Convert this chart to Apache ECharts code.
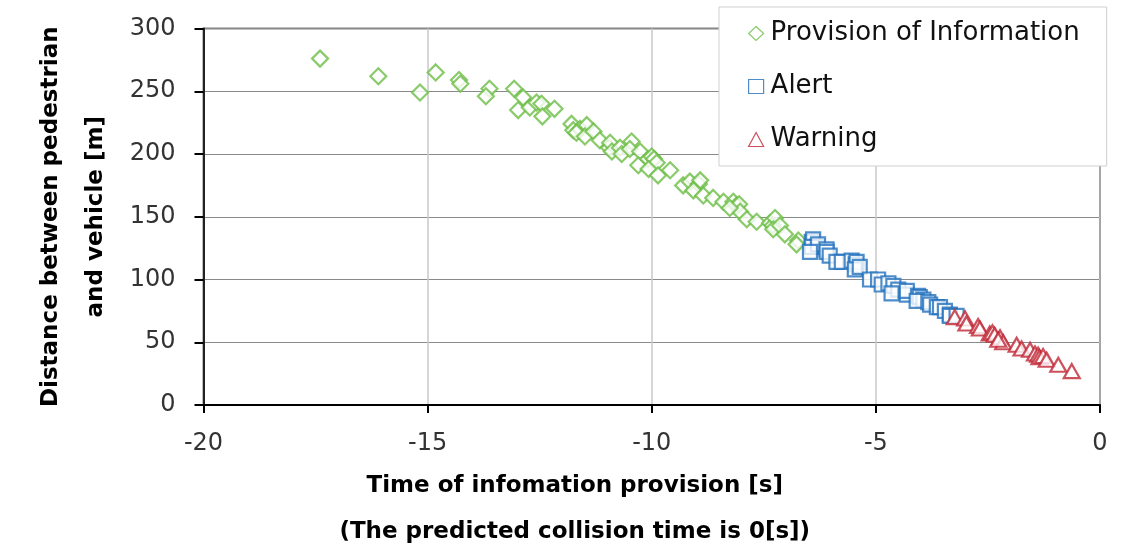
<!DOCTYPE html>
<html>
<head>
<meta charset="utf-8">
<script src="https://cdn.jsdelivr.net/npm/echarts@6/dist/echarts.min.js"></script>
<style>
  html, body { margin: 0; padding: 0; background: #fff; }
  #chart { width: 1137px; height: 560px; }
</style>
</head>
<body>
<div id="chart"></div>
<script>
// 提供情報 (green diamonds)
var infoT = [-17.40, -16.10, -15.17, -14.82, -14.30, -14.27, -13.62, -13.70, -13.07, -12.87, -12.98, -12.72, -12.57, -12.46, -12.44, -12.17,
  -11.79, -11.75, -11.60, -11.45, -11.68, -11.49, -11.30, -11.16, -10.95, -10.93, -10.89, -10.71, -10.67, -10.45, -10.49, -10.26, -10.30,
  -10.08, -10.00, -9.95, -9.89, -10.07, -9.86, -9.59, -9.30, -9.15, -8.95, -8.92, -9.07, -8.85, -8.63, -8.40, -8.18, -8.11, -8.05, -8.03,
  -8.26, -7.88, -7.66, -7.36, -7.30, -7.25, -7.29, -7.14, -7.03, -6.73, -6.77];
var infoD = [276, 262, 249, 265, 259, 256, 252, 246, 252, 245, 235, 237, 241, 240, 230, 236,
  224, 219, 220, 223, 217, 214, 218, 211, 205, 209, 202, 205, 200, 210, 204, 202, 191,
  196, 198, 196, 193, 188, 183, 187, 175, 178, 176, 179, 171, 167, 165, 162, 162, 159, 160, 154,
  157, 148, 146, 145, 143, 149, 140, 143, 136, 131, 128];
// 注意喚起 (blue squares)
var alertT = [-6.43, -6.40, -6.32, -6.43, -6.29, -6.47, -6.10, -6.10, -6.03, -5.88, -5.76, -5.54, -5.45, -5.43, -5.47, -5.36,
  -5.13, -4.95, -4.87, -4.72, -4.61, -4.50, -4.65, -4.31, -4.31, -4.06, -4.02, -3.94, -4.09, -3.83, -3.79, -3.64, -3.57,
  -3.46, -3.35, -3.35, -3.20];
var alertD = [130, 132, 126, 126, 128, 122, 124, 122, 119, 114, 114, 115, 112, 114, 108, 110,
  100, 100, 96, 97, 95, 92, 89, 88, 91, 87, 86, 84, 83, 82, 80, 78, 78,
  75, 72, 71, 71];
// 警報 (red triangles)
var warnT = [-3.24, -3.01, -2.98, -2.72, -2.68, -2.46, -2.40, -2.35, -2.23, -2.16, -2.27, -1.86, -1.75, -1.56, -1.45, -1.38, -1.35,
  -1.27, -1.19, -0.93, -0.63];
var warnD = [70, 69, 65, 63, 61, 57, 58, 56, 54, 50, 52, 48, 45, 44, 41, 40, 38,
  39, 36, 32, 27];

var xTicks = [-20, -15, -10, -5, 0];
var yTicks = [0, 50, 100, 150, 200, 250, 300];

function pairs(xs, ys) {
  var out = [];
  for (var i = 0; i < xs.length; i++) out.push([xs[i], ys[i]]);
  return out;
}

var FONT = 'DejaVu Sans';

function mkSeries(name, xs, ys, symbol, size, color) {
  return {
    name: name,
    type: 'scatter',
    symbol: symbol,
    symbolSize: size,
    data: pairs(xs, ys),
    itemStyle: { color: '#fff', borderColor: color, borderWidth: 2.2 },
    emphasis: { disabled: true }
  };
}

var chart = echarts.init(document.getElementById('chart'));
chart.setOption({
  animation: false,
  textStyle: { fontFamily: FONT },
  grid: { left: 203.5, width: 896.5, top: 28.5, height: 384.5, show: true, borderColor: '#000', borderWidth: 1.5, backgroundColor: 'transparent' },
  legend: {
    orient: 'vertical',
    left: 719,
    top: 7,
    backgroundColor: '#fff',
    borderColor: '#cfcfcf',
    borderWidth: 1,
    padding: [13, 27, 13, 29],
    itemGap: 26,
    itemWidth: 15,
    itemHeight: 14,
    itemStyle: { borderWidth: 1.2 },
    textStyle: { fontFamily: FONT, fontSize: 26, color: '#111', lineHeight: 27, padding: [0, 0, 0, 2] },
    data: ['Provision of Information', 'Alert', 'Warning']
  },
  xAxis: {
    type: 'value',
    min: -20,
    max: 0,
    interval: 5,
    name: 'Time of infomation provision [s]\n(The predicted collision time is 0[s])',
    nameLocation: 'middle',
    nameGap: 58,
    nameTextStyle: { fontFamily: FONT, fontSize: 23, fontWeight: 'bold', color: '#000', lineHeight: 46, padding: [0, 154, 0, 0] },
    axisLine: { show: true, onZero: false, lineStyle: { color: '#000', width: 2 } },
    axisTick: { show: true, inside: false, length: 8, lineStyle: { color: '#000', width: 2 } },
    axisLabel: { fontFamily: FONT, fontSize: 24, color: '#333', margin: 27,
      formatter: function (v) { return xTicks.indexOf(v) >= 0 ? String(v) : ''; } },
    splitLine: { show: true, lineStyle: { color: '#c8c8c8', width: 1.5 } }
  },
  yAxis: {
    type: 'value',
    min: 0,
    max: 300,
    interval: 50,
    name: 'Distance between pedestrian\nand vehicle [m]',
    nameLocation: 'middle',
    nameRotate: 90,
    nameGap: 77,
    nameTextStyle: { fontFamily: FONT, fontSize: 23, fontWeight: 'bold', color: '#000', lineHeight: 45 },
    axisLine: { show: true, onZero: false, lineStyle: { color: '#222', width: 2 } },
    axisTick: { show: true, inside: false, length: 9, lineStyle: { color: '#000', width: 2 } },
    axisLabel: { fontFamily: FONT, fontSize: 24, color: '#333', margin: 28,
      formatter: function (v) { return yTicks.indexOf(v) >= 0 ? String(v) : ''; } },
    splitLine: { show: true, lineStyle: { color: '#8a8a8a', width: 1.2 } }
  },
  series: [
    mkSeries('Provision of Information', infoT, infoD, 'diamond', 16, '#6cbd45'),
    mkSeries('Alert', alertT, alertD, 'rect', 14, '#2270bd'),
    mkSeries('Warning', warnT, warnD, 'triangle', [16, 14], '#bf2634')
  ]
});
</script>
</body>
</html>
